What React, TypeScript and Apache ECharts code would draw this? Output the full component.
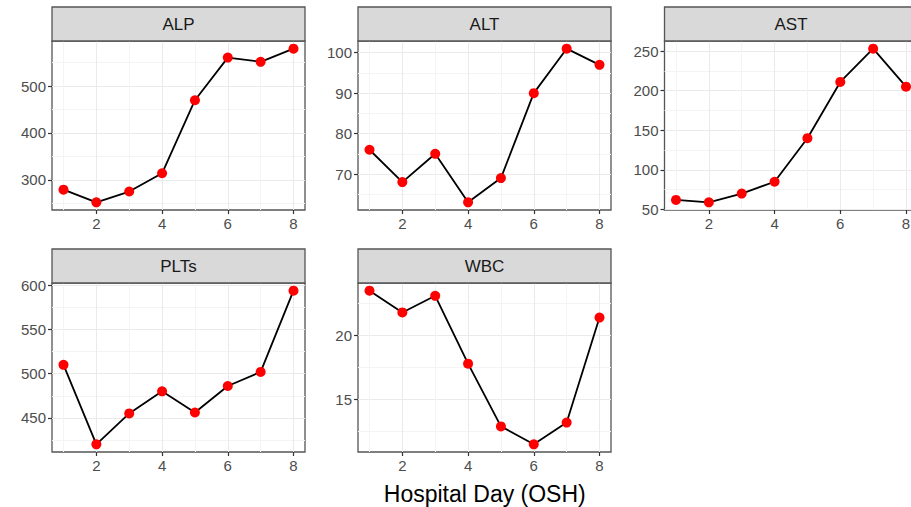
import React, { useEffect, useRef } from "react";
import * as echarts from "echarts";

// ---- data ----
const days = [1, 2, 3, 4, 5, 6, 7, 8];
const panelNames = ["ALP", "ALT", "AST", "PLTs", "WBC"];
const alpValues = [279, 252, 275, 314, 470, 561, 552, 580];
const altValues = [76, 68, 75, 63, 69, 90, 101, 97];
const astValues = [62, 59, 70, 85, 140, 211, 253, 205];
const pltValues = [510, 420, 455, 480, 456, 486, 502, 594];
const wbcValues = [23.5, 21.8, 23.1, 17.8, 12.9, 11.5, 13.2, 21.4];
const xTickLabels = [2, 4, 6, 8];
const alpTicks = [300, 400, 500];
const altTicks = [70, 80, 90, 100];
const astTicks = [50, 100, 150, 200, 250];
const pltTicks = [450, 500, 550, 600];
const wbcTicks = [15, 20];
const xAxisTitle = "Hospital Day (OSH)";

// ---- layout ----
const FONT = "'Liberation Sans', Arial, Helvetica, sans-serif";
const gridLefts = [52, 358, 664.5, 52, 358];
const gridTops = [41, 41, 41, 283, 283];
const PW = 253;
const PH = 169;
const STRIP_H = 34;
const MAJOR = "#EAEAEA";
const MINOR = "#F4F4F4";

function expandRange(vals: number[]): [number, number] {
  const mn = Math.min(...vals);
  const mx = Math.max(...vals);
  const r = mx - mn;
  return [mn - 0.05 * r, mx + 0.05 * r];
}

function gridValues(majors: number[], range: [number, number]) {
  const step = majors.length > 1 ? majors[1] - majors[0] : 1;
  const vals: number[] = [];
  const colors: string[] = [];
  const start = majors[0] - step / 2;
  const end = majors[majors.length - 1] + step / 2;
  for (let k = 0; start + (k * step) / 2 <= end + 1e-9; k++) {
    const v = +(start + (k * step) / 2).toFixed(6);
    if (v >= range[0] && v <= range[1]) {
      vals.push(v);
      colors.push(k % 2 === 0 ? MINOR : MAJOR);
    }
  }
  return { vals, colors };
}

export default function App() {
  const ref = useRef<HTMLDivElement>(null);
  useEffect(() => {
    document.body.style.margin = "0";
    const chart = echarts.init(ref.current!, undefined, { renderer: "svg" });
    const seriesValues = [alpValues, altValues, astValues, pltValues, wbcValues];
    const yMajors = [alpTicks, altTicks, astTicks, pltTicks, wbcTicks];
    const xRange = expandRange(days);
    const xGrid = gridValues(xTickLabels, xRange);

    const grids: any[] = [];
    const xAxes: any[] = [];
    const yAxes: any[] = [];
    const series: any[] = [];
    const graphics: any[] = [];

    panelNames.forEach((name, i) => {
      const vals = seriesValues[i];
      const yRange = expandRange(vals);
      const yGrid = gridValues(yMajors[i], yRange);
      grids.push({
        left: gridLefts[i],
        top: gridTops[i],
        width: PW,
        height: PH,
        show: true,
        backgroundColor: "#FFFFFF",
        borderColor: "#555555",
        borderWidth: 1.3,
        containLabel: false,
        outerBoundsMode: "none",
      });
      xAxes.push({
        type: "value",
        gridIndex: i,
        position: "bottom",
        min: xRange[0],
        max: xRange[1],
        axisLine: { show: false },
        axisTick: { show: false, customValues: xGrid.vals },
        axisLabel: { show: false },
        splitLine: { show: true, lineStyle: { color: xGrid.colors, width: 1 } },
      });
      xAxes.push({
        type: "value",
        gridIndex: i,
        position: "bottom",
        min: xRange[0],
        max: xRange[1],
        axisLine: { show: false },
        axisTick: {
          show: true,
          customValues: xTickLabels,
          length: 4,
          lineStyle: { color: "#333333", width: 1.2 },
        },
        axisLabel: {
          customValues: xTickLabels,
          color: "#4D4D4D",
          fontSize: 15,
          fontFamily: FONT,
          margin: 6,
        },
        splitLine: { show: false },
      });
      yAxes.push({
        type: "value",
        gridIndex: i,
        position: "left",
        min: yRange[0],
        max: yRange[1],
        axisLine: { show: false },
        axisTick: { show: false, customValues: yGrid.vals },
        axisLabel: { show: false },
        splitLine: { show: true, lineStyle: { color: yGrid.colors, width: 1 } },
      });
      yAxes.push({
        type: "value",
        gridIndex: i,
        position: "left",
        min: yRange[0],
        max: yRange[1],
        axisLine: { show: false },
        axisTick: {
          show: true,
          customValues: yMajors[i],
          length: 4,
          lineStyle: { color: "#333333", width: 1.2 },
        },
        axisLabel: {
          customValues: yMajors[i],
          color: "#4D4D4D",
          fontSize: 15,
          fontFamily: FONT,
          margin: 6,
        },
        splitLine: { show: false },
      });
      series.push({
        type: "line",
        name,
        xAxisIndex: 2 * i + 1,
        yAxisIndex: 2 * i + 1,
        data: days.map((d, k) => [d, vals[k]]),
        symbol: "circle",
        symbolSize: 10,
        showSymbol: true,
        itemStyle: { color: "#FF0000" },
        lineStyle: { color: "#000000", width: 1.8 },
        z: 3,
      });
      graphics.push({
        type: "rect",
        shape: { x: gridLefts[i], y: gridTops[i] - STRIP_H, width: PW, height: STRIP_H },
        style: { fill: "#D9D9D9", stroke: "#555555", lineWidth: 1.3 },
        z: 10,
      });
      graphics.push({
        type: "text",
        x: gridLefts[i] + PW / 2,
        y: gridTops[i] - STRIP_H / 2,
        style: {
          text: name,
          fill: "#1A1A1A",
          fontSize: 17,
          fontFamily: FONT,
          textAlign: "center",
          textVerticalAlign: "middle",
        },
        z: 11,
      });
    });

    graphics.push({
      type: "text",
      x: (gridLefts[0] + gridLefts[2] + PW) / 2,
      y: 494,
      style: {
        text: xAxisTitle,
        fill: "#000000",
        fontSize: 23,
        fontFamily: FONT,
        textAlign: "center",
        textVerticalAlign: "middle",
      },
      z: 11,
    });

    chart.setOption({
      animation: false,
      backgroundColor: "#FFFFFF",
      grid: grids,
      xAxis: xAxes,
      yAxis: yAxes,
      series,
      graphic: graphics,
    });
    return () => chart.dispose();
  }, []);
  return <div ref={ref} style={{ width: 911, height: 507 }} />;
}
